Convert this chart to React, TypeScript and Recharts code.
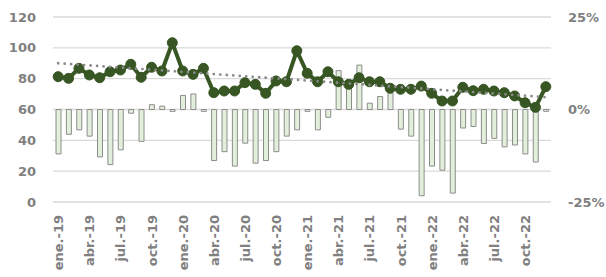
import React from 'react';
import {
  ComposedChart,
  Bar,
  Line,
  XAxis,
  YAxis,
  CartesianGrid,
  ReferenceLine,
} from 'recharts';

const months = [
  'ene.-19', 'feb.-19', 'mar.-19', 'abr.-19', 'may.-19', 'jun.-19', 'jul.-19', 'ago.-19', 'sep.-19', 'oct.-19', 'nov.-19', 'dic.-19',
  'ene.-20', 'feb.-20', 'mar.-20', 'abr.-20', 'may.-20', 'jun.-20', 'jul.-20', 'ago.-20', 'sep.-20', 'oct.-20', 'nov.-20', 'dic.-20',
  'ene.-21', 'feb.-21', 'mar.-21', 'abr.-21', 'may.-21', 'jun.-21', 'jul.-21', 'ago.-21', 'sep.-21', 'oct.-21', 'nov.-21', 'dic.-21',
  'ene.-22', 'feb.-22', 'mar.-22', 'abr.-22', 'may.-22', 'jun.-22', 'jul.-22', 'ago.-22', 'sep.-22', 'oct.-22', 'nov.-22', 'dic.-22',
];

// Level series (left axis)
const levelValues = [
  81.3, 80.2, 86.7, 82.4, 80.6, 84.5, 85.6, 89.3, 80.9, 87.4, 85.0, 103.3,
  85.0, 82.8, 86.7, 70.9, 72.0, 72.0, 77.4, 76.3, 70.5, 78.5, 78.0, 98.1,
  83.5, 78.0, 84.5, 78.0, 76.3, 80.6, 78.0, 78.0, 73.8, 73.1, 73.1, 75.2,
  70.5, 65.5, 65.5, 74.4, 72.2, 73.1, 72.0, 70.9, 68.8, 64.4, 61.4, 74.8,
];

// Year-on-year change in % (right axis)
const changeValues = [
  -12.0, -6.7, -5.5, -7.2, -12.8, -14.9, -10.9, -1.0, -8.6, 1.3, 0.9, -0.5,
  3.8, 4.2, -0.5, -13.8, -11.4, -15.3, -9.1, -14.5, -13.8, -11.4, -7.2, -5.5,
  -0.5, -5.5, -2.1, 10.5, 8.0, 12.0, 1.7, 3.5, 4.5, -5.3, -7.2, -23.3,
  -15.3, -16.4, -22.6, -5.0, -4.6, -9.2, -7.8, -10.1, -9.6, -12.0, -14.2, -0.5,
];

// Trend line endpoints (left axis)
const trendEnds = [90.0, 68.0];

const leftTicks = [0, 20, 40, 60, 80, 100, 120];
const rightTicks = [-25, 0, 25];

const data = months.map((m, i) => ({
  month: m,
  level: levelValues[i],
  change: changeValues[i],
}));

const TEXT_COLOR = '#808080';
const FONT = '"DejaVu Sans", sans-serif';

const XTick = (props: any) => {
  const { x, y, payload } = props;
  return (
    <text
      x={x}
      y={y}
      transform={`rotate(-90 ${x} ${y})`}
      textAnchor="end"
      dy="0.38em"
      fill={TEXT_COLOR}
      fontSize={13}
      fontWeight="bold"
      fontFamily={FONT}
    >
      {payload.value}
    </text>
  );
};

const tickStyle = {
  fill: TEXT_COLOR,
  fontSize: 13,
  fontWeight: 'bold' as const,
  fontFamily: FONT,
};

export default function App() {
  return (
    <div style={{ position: 'absolute', left: 0, top: 0, background: '#fff' }}>
      <ComposedChart
        width={606}
        height={277}
        data={data}
        margin={{ top: 17, right: 0, bottom: 0, left: 0 }}
      >
        <CartesianGrid
          yAxisId="left"
          vertical={false}
          stroke="#d9d9d9"
          strokeWidth={1.3}
        />
        <XAxis
          dataKey="month"
          interval={2}
          tickLine={false}
          axisLine={false}
          tickSize={0}
          tickMargin={13}
          height={75}
          tick={(p: any) => <XTick {...p} />}
        />
        <YAxis
          yAxisId="left"
          domain={[0, 120]}
          ticks={leftTicks}
          width={53}
          tickLine={false}
          axisLine={false}
          tickSize={0}
          tickMargin={17}
          tick={tickStyle}
        />
        <YAxis
          yAxisId="right"
          orientation="right"
          domain={[-25, 25]}
          ticks={rightTicks}
          width={55}
          tickLine={false}
          axisLine={false}
          tickSize={0}
          tickMargin={17}
          tick={tickStyle}
          tickFormatter={(v: number) => `${v}%`}
        />
        <Bar
          yAxisId="right"
          dataKey="change"
          barSize={5}
          fill="#e2efda"
          stroke="#8c8c8c"
          strokeWidth={1}
          isAnimationActive={false}
        />
        <Line
          yAxisId="left"
          dataKey="level"
          stroke="#375623"
          strokeWidth={4}
          dot={{ r: 5, fill: '#375623', stroke: '#375623', strokeWidth: 1 }}
          activeDot={false}
          isAnimationActive={false}
        />
        <ReferenceLine
          yAxisId="left"
          zIndex={1100}
          segment={[
            { x: months[0], y: trendEnds[0] },
            { x: months[months.length - 1], y: trendEnds[1] },
          ]}
          stroke="#8a8a8a"
          strokeWidth={2.8}
          strokeDasharray="0 6.5"
          strokeLinecap="round"
        />
      </ComposedChart>
    </div>
  );
}
